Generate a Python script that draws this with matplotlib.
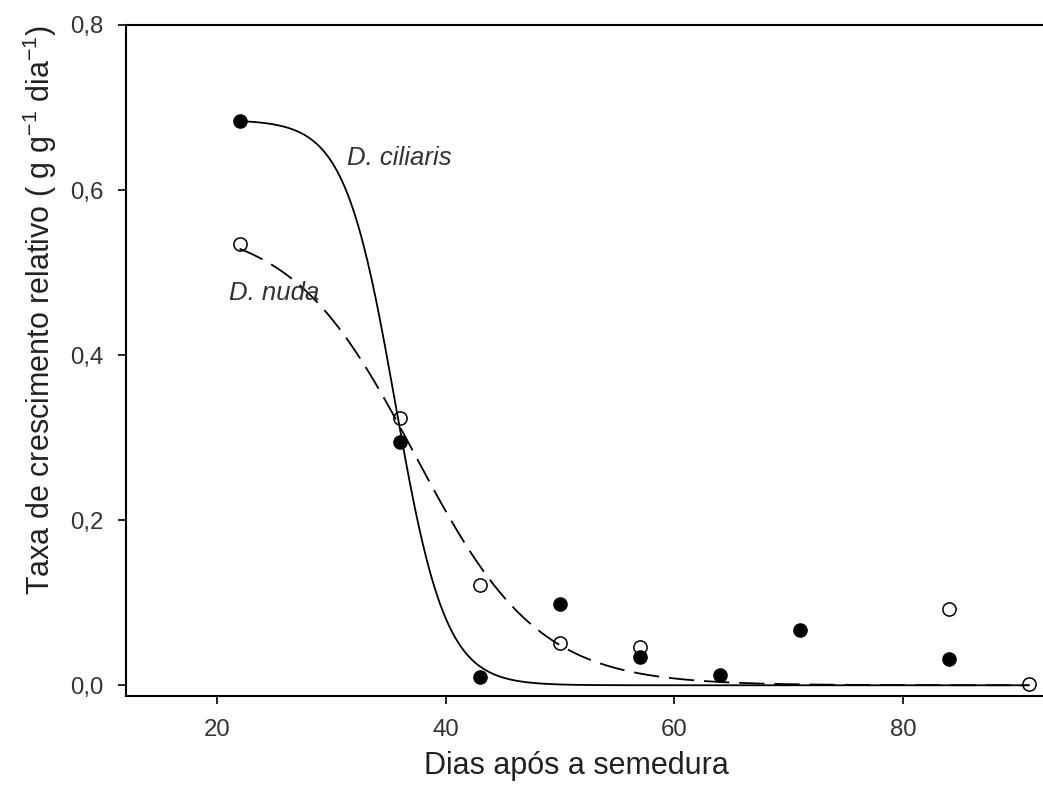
import numpy as np
import matplotlib.pyplot as plt

plt.rcParams['font.family'] = ['Liberation Sans', 'DejaVu Sans']
plt.rcParams['mathtext.fontset'] = 'custom'
plt.rcParams['mathtext.rm'] = 'Liberation Sans'
plt.rcParams['mathtext.default'] = 'regular'

# dados (dias apos a semedura)
dias_ciliaris = [22, 36, 43, 50, 57, 64, 71, 84]
tcr_ciliaris = [0.684, 0.295, 0.010, 0.098, 0.034, 0.0125, 0.067, 0.0315]

dias_nuda = [22, 36, 43, 50, 57, 84, 91]
tcr_nuda = [0.535, 0.3235, 0.122, 0.051, 0.046, 0.092, 0.002]

# parametros da regressao sigmoidal y = a / (1 + exp((x - x0) / b))
fit_ciliaris = (0.685, 35.6, 2.2)
fit_nuda = (0.56, 37.3, 5.4)
fit_range = (22, 91)

xticks = [20, 40, 60, 80]
yticks = [0.0, 0.2, 0.4, 0.6, 0.8]
ytick_labels = ['0,0', '0,2', '0,4', '0,6', '0,8']


def sigmoid(x, p):
	a, x0, b = p
	return a / (1 + np.exp((x - x0) / b))


fig = plt.figure(figsize=(10.43, 7.86), dpi=100)
ax = fig.add_axes([126 / 1043, 90 / 786, 1 - 126 / 1043, 671 / 786])

xf = np.linspace(fit_range[0], fit_range[1], 600)
ax.plot(xf, sigmoid(xf, fit_ciliaris), color='black', lw=1.3, zorder=2)
ax.plot(xf, sigmoid(xf, fit_nuda), color='black', lw=1.3, dashes=(14, 5.5), zorder=2)

ax.plot(dias_ciliaris, tcr_ciliaris, 'o', color='black', ms=9.5, zorder=3)
ax.plot(dias_nuda, tcr_nuda, 'o', mfc='none', mec='black', mew=1.1, ms=9.5, zorder=3)

ax.text(31.36, 0.639, 'D. ciliaris', style='italic', fontsize=18.5, color='#333333', va='center')
ax.text(21.1, 0.475, 'D. nuda', style='italic', fontsize=18.5, color='#333333', va='center')

ax.set_xlim(12.07, 92.23)
ax.set_ylim(-0.013, 0.8)
ax.set_xticks(xticks)
ax.set_yticks(yticks)
ax.set_yticklabels(ytick_labels)

for s in ['left', 'bottom', 'top']:
	ax.spines[s].set_linewidth(1.5)
ax.spines['right'].set_visible(False)

ax.tick_params(direction='out', length=5.8, width=1.2, pad=10.5,
	labelsize=17.3, labelcolor='#333333')

fig.text(576 / 1043, 1 - 766 / 786, 'Dias após a semedura', fontsize=22,
	color='#222222', ha='center', va='center')
fig.text(40 / 1043, 1 - 310 / 786, 'Taxa de crescimento relativo ( g g$^{-1}$ dia$^{-1}$)',
	fontsize=22, color='#222222', ha='center', va='center', rotation=90)

plt.savefig('out.png', format='png')
